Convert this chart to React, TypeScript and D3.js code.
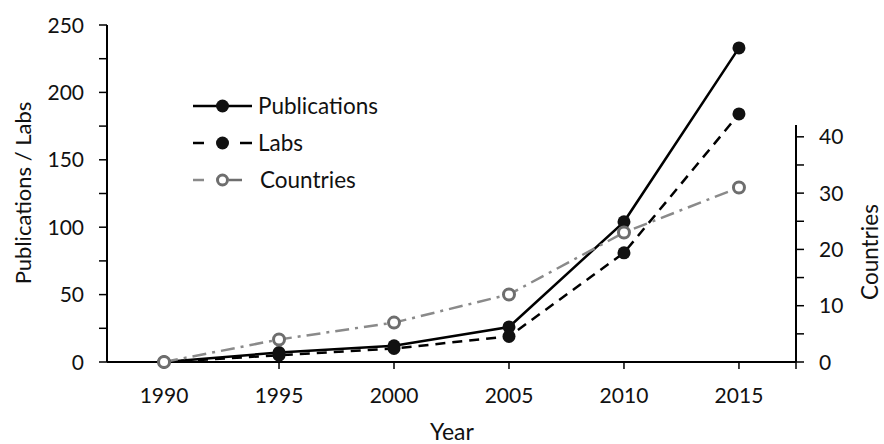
import React from "react";
import * as d3 from "d3";

const years = [1990, 1995, 2000, 2005, 2010, 2015];
const publications = [0, 7, 12, 26, 104, 233];
const labs = [0, 5, 10, 19, 81, 184];
const countries = [0, 4, 7, 12, 23, 31];
const leftTicks = [0, 50, 100, 150, 200, 250];
const rightTicks = [0, 10, 20, 30, 40];

const W = 884;
const H = 444;
const FONT = "Lato, 'Open Sans', sans-serif";

export default function App() {
  const x = d3.scaleLinear().domain([1987.52, 2017.48]).range([107, 796]);
  const yL = d3.scaleLinear().domain([0, 250]).range([362, 25]);
  const yR = d3.scaleLinear().domain([0, 42.1]).range([362, 125]);

  const lineL = d3
    .line<number>()
    .x((_, i) => x(years[i]))
    .y((d) => yL(d));
  const lineR = d3
    .line<number>()
    .x((_, i) => x(years[i]))
    .y((d) => yR(d));

  const leftMinor = d3.range(0, 251, 25);
  const rightMinor = d3.range(0, 41, 5);

  const legendItems = [
    { name: "Publications", y: 106, dx: 0 },
    { name: "Labs", y: 143, dx: 0 },
    { name: "Countries", y: 180, dx: 2 },
  ];

  return (
    <svg
      width={W}
      height={H}
      style={{ position: "absolute", left: 0, top: 0, background: "#fff" }}
      fontFamily={FONT}
    >
      <rect x={0} y={0} width={W} height={H} fill="#fff" />
      {/* left axis */}
      <line x1={107} x2={107} y1={yL(250)} y2={yL(0)} stroke="#000" strokeWidth={2} />
      {leftMinor.map((t) => (
        <line key={"lm" + t} x1={99} x2={107} y1={yL(t)} y2={yL(t)} stroke="#000" strokeWidth={1.5} />
      ))}
      {leftTicks.map((t) => (
        <text key={"lt" + t} x={84} y={yL(t)} dy="0.36em" textAnchor="end" fontSize={21} fill="#111">
          {t}
        </text>
      ))}
      {/* x axis */}
      <line x1={107} x2={796} y1={362} y2={362} stroke="#000" strokeWidth={2} />
      {years.map((yr) => (
        <line key={"xt" + yr} x1={x(yr)} x2={x(yr)} y1={362} y2={369} stroke="#000" strokeWidth={1.5} />
      ))}
      <line x1={796} x2={796} y1={362} y2={369} stroke="#000" strokeWidth={1.5} />
      {years.map((yr) => (
        <text key={"xl" + yr} x={x(yr)} y={395} dy="0.36em" textAnchor="middle" fontSize={21} fill="#111">
          {yr}
        </text>
      ))}
      {/* right axis */}
      <line x1={796} x2={796} y1={125} y2={362} stroke="#000" strokeWidth={2} />
      {rightMinor.map((t) => (
        <line key={"rm" + t} x1={796} x2={804} y1={yR(t)} y2={yR(t)} stroke="#000" strokeWidth={1.5} />
      ))}
      {rightTicks.map((t) => (
        <text key={"rt" + t} x={819} y={yR(t)} dy="0.36em" textAnchor="start" fontSize={21} fill="#111">
          {t}
        </text>
      ))}
      {/* axis titles */}
      <text
        transform={`translate(31,193) rotate(-90)`}
        textAnchor="middle"
        fontSize={22}
        fill="#111"
      >
        Publications / Labs
      </text>
      <text
        transform={`translate(878,252) rotate(-90)`}
        textAnchor="middle"
        fontSize={22.5}
        fill="#111"
      >
        Countries
      </text>
      <text x={452} y={440} textAnchor="middle" fontSize={23} fill="#111">
        Year
      </text>

      {/* series */}
      <path d={lineL(publications) || ""} fill="none" stroke="#000" strokeWidth={2.5} />
      <path d={lineL(labs) || ""} fill="none" stroke="#000" strokeWidth={2.5} strokeDasharray="10,7" />
      <path
        d={lineR(countries) || ""}
        fill="none"
        stroke="#8a8a8a"
        strokeWidth={2.5}
        strokeDasharray="14,6,3,6"
      />
      {publications.map((v, i) => (
        <circle key={"pm" + i} cx={x(years[i])} cy={yL(v)} r={6.5} fill="#111" />
      ))}
      {labs.map((v, i) => (
        <circle key={"lm" + i} cx={x(years[i])} cy={yL(v)} r={6.5} fill="#111" />
      ))}
      {countries.map((v, i) => (
        <circle
          key={"cm" + i}
          cx={x(years[i])}
          cy={yR(v)}
          r={5.5}
          fill="#fff"
          stroke="#6e6e6e"
          strokeWidth={3}
        />
      ))}

      {/* legend */}
      <g>
        <line x1={193} x2={252} y1={106} y2={106} stroke="#000" strokeWidth={2.5} />
        <circle cx={222.5} cy={106} r={6.5} fill="#111" />
        <line x1={193} x2={204} y1={143} y2={143} stroke="#000" strokeWidth={2.5} />
        <line x1={240} x2={252} y1={143} y2={143} stroke="#000" strokeWidth={2.5} />
        <circle cx={222.5} cy={143} r={6.5} fill="#111" />
        <line x1={193} x2={204} y1={180} y2={180} stroke="#8a8a8a" strokeWidth={2.5} />
        <line x1={229} x2={242} y1={180} y2={180} stroke="#6e6e6e" strokeWidth={2.5} />
        <circle cx={222.5} cy={180} r={5} fill="#fff" stroke="#6e6e6e" strokeWidth={3} />
        {legendItems.map((it) => (
          <text key={it.name} x={258 + it.dx} y={it.y} dy="0.36em" fontSize={22.5} fill="#111">
            {it.name}
          </text>
        ))}
      </g>
    </svg>
  );
}
